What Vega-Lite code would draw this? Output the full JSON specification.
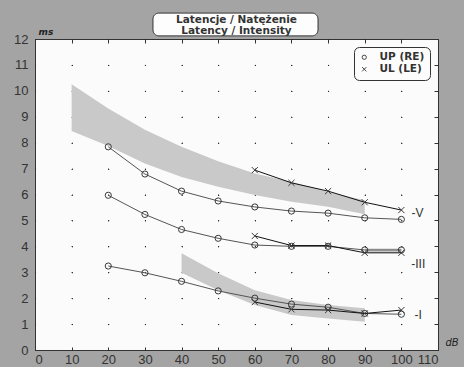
{
  "$schema": "https://vega.github.io/schema/vega-lite/v6.json",
  "width": 403,
  "height": 311,
  "autosize": {"type": "none"},
  "padding": {"left": 35, "top": 39, "right": 26, "bottom": 17},
  "background": "#a4a4a4",
  "title": {
    "text": ["Latencje / Natężenie", "Latency / Intensity"],
    "anchor": "middle",
    "font": "DejaVu Sans",
    "fontSize": 10.5,
    "fontWeight": "bold",
    "color": "#333333",
    "lineHeight": 11,
    "offset": -24,
    "zindex": 1
  },
  "config": {
    "view": {"fill": "#fbfbfb", "stroke": "#333333", "strokeWidth": 1},
    "axis": {
      "labelFont": "Liberation Sans Narrow, Liberation Sans",
      "labelFontSize": 13,
      "labelColor": "#333333",
      "domain": false,
      "tickColor": "#333333"
    },
    "legend": {
      "labelFont": "DejaVu Sans",
      "labelFontSize": 10.5,
      "labelFontWeight": "bold",
      "labelColor": "#333333"
    }
  },
  "datasets": {
    "bands": [
      {"wave": "V", "x": 10, "lo": 8.45, "hi": 10.25},
      {"wave": "V", "x": 20, "lo": 7.87, "hi": 9.32},
      {"wave": "V", "x": 30, "lo": 7.2, "hi": 8.5},
      {"wave": "V", "x": 40, "lo": 6.68, "hi": 7.84},
      {"wave": "V", "x": 50, "lo": 6.3, "hi": 7.28},
      {"wave": "V", "x": 60, "lo": 5.98, "hi": 6.81},
      {"wave": "V", "x": 70, "lo": 5.72, "hi": 6.49},
      {"wave": "V", "x": 80, "lo": 5.53, "hi": 6.1},
      {"wave": "V", "x": 90, "lo": 5.24, "hi": 5.78},
      {"wave": "III", "x": 90, "lo": 3.76, "hi": 3.92},
      {"wave": "III", "x": 100, "lo": 3.76, "hi": 3.92},
      {"wave": "I", "x": 40, "lo": 2.98, "hi": 3.73},
      {"wave": "I", "x": 50, "lo": 2.31, "hi": 2.96},
      {"wave": "I", "x": 60, "lo": 1.74, "hi": 2.31},
      {"wave": "I", "x": 70, "lo": 1.35, "hi": 1.93},
      {"wave": "I", "x": 80, "lo": 1.22, "hi": 1.74},
      {"wave": "I", "x": 90, "lo": 1.09, "hi": 1.61}
    ],
    "series": [
      {"wave": "V", "ear": "UP (RE)", "x": 20, "y": 7.84},
      {"wave": "V", "ear": "UP (RE)", "x": 30, "y": 6.79},
      {"wave": "V", "ear": "UP (RE)", "x": 40, "y": 6.13},
      {"wave": "V", "ear": "UP (RE)", "x": 50, "y": 5.75},
      {"wave": "V", "ear": "UP (RE)", "x": 60, "y": 5.52},
      {"wave": "V", "ear": "UP (RE)", "x": 70, "y": 5.36},
      {"wave": "V", "ear": "UP (RE)", "x": 80, "y": 5.28},
      {"wave": "V", "ear": "UP (RE)", "x": 90, "y": 5.1},
      {"wave": "V", "ear": "UP (RE)", "x": 100, "y": 5.04},
      {"wave": "V", "ear": "UL (LE)", "x": 60, "y": 6.94},
      {"wave": "V", "ear": "UL (LE)", "x": 70, "y": 6.45},
      {"wave": "V", "ear": "UL (LE)", "x": 80, "y": 6.13},
      {"wave": "V", "ear": "UL (LE)", "x": 90, "y": 5.7},
      {"wave": "V", "ear": "UL (LE)", "x": 100, "y": 5.4},
      {"wave": "III", "ear": "UP (RE)", "x": 20, "y": 5.97},
      {"wave": "III", "ear": "UP (RE)", "x": 30, "y": 5.23},
      {"wave": "III", "ear": "UP (RE)", "x": 40, "y": 4.65},
      {"wave": "III", "ear": "UP (RE)", "x": 50, "y": 4.31},
      {"wave": "III", "ear": "UP (RE)", "x": 60, "y": 4.05},
      {"wave": "III", "ear": "UP (RE)", "x": 70, "y": 4.0},
      {"wave": "III", "ear": "UP (RE)", "x": 80, "y": 4.0},
      {"wave": "III", "ear": "UP (RE)", "x": 90, "y": 3.86},
      {"wave": "III", "ear": "UP (RE)", "x": 100, "y": 3.86},
      {"wave": "III", "ear": "UL (LE)", "x": 60, "y": 4.4},
      {"wave": "III", "ear": "UL (LE)", "x": 70, "y": 4.03},
      {"wave": "III", "ear": "UL (LE)", "x": 80, "y": 4.03},
      {"wave": "III", "ear": "UL (LE)", "x": 90, "y": 3.75},
      {"wave": "III", "ear": "UL (LE)", "x": 100, "y": 3.75},
      {"wave": "I", "ear": "UP (RE)", "x": 20, "y": 3.24},
      {"wave": "I", "ear": "UP (RE)", "x": 30, "y": 2.98},
      {"wave": "I", "ear": "UP (RE)", "x": 40, "y": 2.65},
      {"wave": "I", "ear": "UP (RE)", "x": 50, "y": 2.28},
      {"wave": "I", "ear": "UP (RE)", "x": 60, "y": 2.0},
      {"wave": "I", "ear": "UP (RE)", "x": 70, "y": 1.77},
      {"wave": "I", "ear": "UP (RE)", "x": 80, "y": 1.65},
      {"wave": "I", "ear": "UP (RE)", "x": 90, "y": 1.41},
      {"wave": "I", "ear": "UP (RE)", "x": 100, "y": 1.38},
      {"wave": "I", "ear": "UL (LE)", "x": 60, "y": 1.85},
      {"wave": "I", "ear": "UL (LE)", "x": 70, "y": 1.57},
      {"wave": "I", "ear": "UL (LE)", "x": 80, "y": 1.54},
      {"wave": "I", "ear": "UL (LE)", "x": 90, "y": 1.41},
      {"wave": "I", "ear": "UL (LE)", "x": 100, "y": 1.54}
    ],
    "labels": [
      {"label": "-V", "x": 104.4, "y": 5.3},
      {"label": "-III", "x": 104.6, "y": 3.3},
      {"label": "-I", "x": 104.6, "y": 1.35}
    ]
  },
  "resolve": {"axis": {"x": "independent", "y": "independent"}},
  "layer": [
    {
      "data": {"name": "bands"},
      "mark": {"type": "area", "color": "#c9c9c9", "opacity": 1},
      "encoding": {
        "x": {
          "field": "x", "type": "quantitative",
          "scale": {"domain": [0, 110], "nice": false, "zero": false},
          "axis": {
            "orient": "bottom",
            "values": [0, 10, 20, 30, 40, 50, 60, 70, 80, 90, 100, 110],
            "grid": true, "gridColor": "#222222", "gridWidth": 1,
            "gridDash": [1, 24.917], "gridDashOffset": 0.5,
            "ticks": true, "tickSize": -3,
            "labelPadding": 6,
            "title": "dB",
            "titleX": 410, "titleY": -3, "titleAlign": "left", "titleAngle": 0,
            "titleBaseline": "bottom",
            "titleFont": "DejaVu Sans", "titleFontSize": 10, "titleFontStyle": "italic",
            "titleFontWeight": "normal", "titleColor": "#222222"
          }
        },
        "y": {
          "field": "lo", "type": "quantitative",
          "scale": {"domain": [0, 12], "nice": false, "zero": false},
          "axis": {
            "orient": "left",
            "values": [0, 1, 2, 3, 4, 5, 6, 7, 8, 9, 10, 11, 12],
            "grid": true, "gridColor": "#222222", "gridWidth": 1,
            "gridDash": [1, 35.636], "gridDashOffset": 0.5,
            "ticks": false,
            "labelPadding": 7,
            "title": "ms",
            "titleX": 3, "titleY": -3, "titleAlign": "left", "titleAngle": 0,
            "titleBaseline": "bottom",
            "titleFont": "DejaVu Sans", "titleFontSize": 9, "titleFontStyle": "italic",
            "titleFontWeight": "bold", "titleColor": "#222222"
          }
        },
        "y2": {"field": "hi"},
        "detail": {"field": "wave"}
      }
    },
    {
      "data": {"name": "series"},
      "mark": {"type": "line", "strokeWidth": 1},
      "encoding": {
        "x": {
          "field": "x", "type": "quantitative",
          "axis": {
            "orient": "top", "labels": false, "grid": false, "ticks": true,
            "tickSize": -4, "title": null,
            "values": [0, 10, 20, 30, 40, 50, 60, 70, 80, 90, 100, 110]
          }
        },
        "y": {
          "field": "y", "type": "quantitative",
          "axis": {
            "orient": "right", "labels": false, "grid": false, "ticks": true,
            "tickSize": -4, "title": null,
            "values": [0, 1, 2, 3, 4, 5, 6, 7, 8, 9, 10, 11, 12]
          }
        },
        "stroke": {
          "condition": {"test": "datum.ear === 'UL (LE)'", "value": "#111111"},
          "value": "#555555"
        },
        "detail": [{"field": "wave"}, {"field": "ear"}]
      }
    },
    {
      "data": {"name": "series"},
      "mark": {"type": "point", "filled": false, "strokeWidth": 1, "size": 38, "opacity": 1, "stroke": "#3a3a3a"},
      "encoding": {
        "x": {"field": "x", "type": "quantitative", "axis": null},
        "y": {"field": "y", "type": "quantitative", "axis": null},
        "shape": {
          "field": "ear", "type": "nominal",
          "scale": {"domain": ["UP (RE)", "UL (LE)"], "range": ["circle", "M-1,-1L1,1M1,-1L-1,1"]},
          "legend": {
            "title": null,
            "orient": "top-right",
            "offset": 8,
            "padding": 5,
            "strokeColor": "#333333",
            "fillColor": "#fcfcfc",
            "cornerRadius": 5,
            "symbolStrokeColor": "#444444",
            "symbolFillColor": "transparent",
            "symbolSize": 18,
            "symbolStrokeWidth": 1,
            "rowPadding": 1,
            "labelOffset": 10
          }
        }
      }
    },
    {
      "data": {"name": "labels"},
      "mark": {"type": "text", "font": "Liberation Sans Narrow, Liberation Sans", "fontSize": 12, "color": "#333333", "align": "center", "baseline": "middle"},
      "encoding": {
        "x": {"field": "x", "type": "quantitative", "axis": null},
        "y": {"field": "y", "type": "quantitative", "axis": null},
        "text": {"field": "label"}
      }
    },
    {
      "data": {"values": [{}]},
      "mark": {"type": "rect", "fill": "#fdfdfd", "stroke": "#333333", "strokeWidth": 1, "cornerRadius": 6},
      "encoding": {
        "x": {"datum": 32.2, "type": "quantitative", "axis": null},
        "x2": {"datum": 77.25},
        "y": {"datum": 13.0, "type": "quantitative", "axis": null},
        "y2": {"datum": 12.12}
      }
    }
  ]
}
